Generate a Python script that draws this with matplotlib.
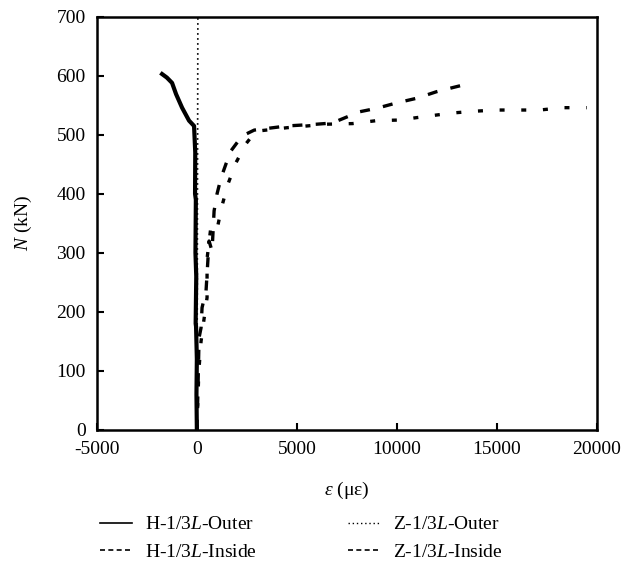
import matplotlib.pyplot as plt
from matplotlib.lines import Line2D

plt.rcParams["font.family"] = ["Liberation Serif", "DejaVu Serif"]
plt.rcParams["mathtext.fontset"] = "custom"
plt.rcParams["mathtext.rm"] = "Liberation Serif"
plt.rcParams["mathtext.it"] = "Liberation Serif:italic"
plt.rcParams["axes.unicode_minus"] = False

# H-1/3L-Outer (solid)
h_out_x = [0, -20, 0, -40, -60, -30, -70, -50, -90, -80, -140, -390, -740, -1040, -1240, -1500, -1740]
h_out_y = [0, 60, 120, 175, 180, 260, 300, 390, 400, 470, 515, 524, 546, 569, 588, 597, 603]

# Z-1/3L-Outer (dotted)
z_out_x = [0, 20, 30, 40, 50]
z_out_y = [0, 200, 400, 520, 700]

# H-1/3L-Inside (dashed, upper branch)
h_in_x = [0, 50, 110, 210, 260, 460, 510, 610, 760, 862, 1010, 1210, 1460, 1710,
          2260, 2870, 4500, 6000, 6770, 8130, 9000, 9980, 11000, 11980, 12790, 13390]
h_in_y = [0, 60, 156, 173, 207, 236, 264, 320, 303, 371, 400, 427, 451, 473,
          498, 508, 515, 518, 520, 539, 545, 554, 562, 573, 580, 585]

# Z-1/3L-Inside (dashed, lower branch)
z_in_x = [0, 100, 210, 360, 510, 510, 710, 1010, 1260, 1560, 1960, 2460, 2950,
          4500, 6500, 7780, 8980, 10080, 11630, 12790, 13890, 14990, 16140, 17140, 18300, 19500]
z_in_y = [0, 100, 150, 188, 224, 290, 346, 340, 380, 417, 453, 485, 506,
          512, 518, 519, 524, 525, 532, 537, 540, 542, 542, 542, 546, 546]

fig = plt.figure(figsize=(6.21, 5.8), dpi=100)
ax = fig.add_axes([0.156, 0.259, 0.805, 0.712])

ax.plot(h_out_x, h_out_y, color="black", linewidth=3.0, linestyle="-")
ax.plot(z_out_x, z_out_y, color="black", linewidth=1.2, linestyle=(0, (1, 2)))
ax.plot(h_in_x, h_in_y, color="black", linewidth=2.4, linestyle=(0, (3, 4)))
ax.plot(z_in_x, z_in_y, color="black", linewidth=2.4, linestyle=(0, (1.5, 5)))

ax.set_xlim(-5000, 20000)
ax.set_ylim(0, 700)
ax.set_xticks([-5000, 0, 5000, 10000, 15000, 20000])
ax.set_yticks(range(0, 701, 100))
ax.tick_params(direction="in", length=5, width=1.5, labelsize=14, top=False, right=False, pad=8)
for s in ax.spines.values():
    s.set_linewidth(1.8)

ax.set_xlabel(r"$\it{\varepsilon}$ (με)", fontsize=14, labelpad=16)
ax.set_ylabel(r"$\it{N}$ (kN)", fontsize=14, labelpad=16)

handles = [
    Line2D([], [], color="black", linewidth=1.2, linestyle="-"),
    Line2D([], [], color="black", linewidth=1.2, linestyle=(0, (3, 2))),
    Line2D([], [], color="black", linewidth=1.0, linestyle=(0, (1, 2))),
    Line2D([], [], color="black", linewidth=1.2, linestyle=(0, (3, 2))),
]
labels = [
    r"H-1/3$\it{L}$-Outer",
    r"H-1/3$\it{L}$-Inside",
    r"Z-1/3$\it{L}$-Outer",
    r"Z-1/3$\it{L}$-Inside",
]
fig.legend(handles, labels, ncol=2, loc="center", bbox_to_anchor=(0.485, 0.072),
           frameon=False, fontsize=14, handlelength=1.65, columnspacing=4.7,
           labelspacing=0.5, handletextpad=0.65)

fig.savefig("out.png", dpi=100)
